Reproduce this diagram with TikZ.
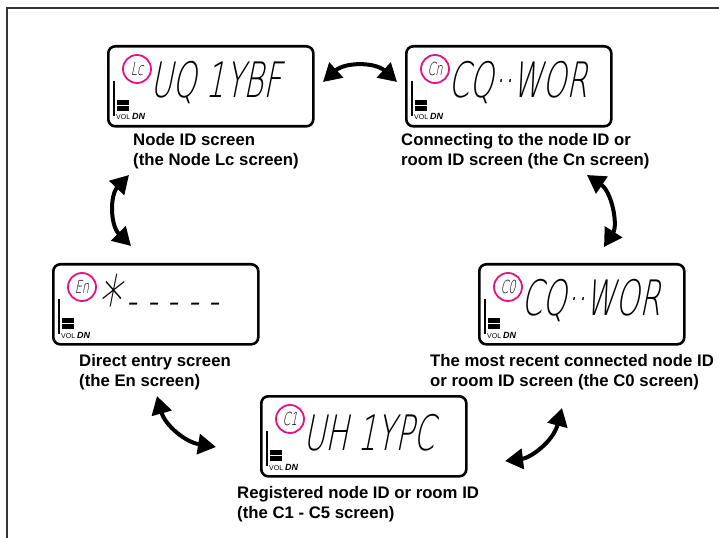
\documentclass[tikz,border=0pt]{standalone}
\usepackage{fontspec}
\setmainfont{Liberation Sans}
\newfontfamily\lcdfont{DejaVu Sans ExtraLight}[FakeSlant=0.2,FakeStretch=0.62]
\usetikzlibrary{arrows.meta}

\definecolor{ringpink}{RGB}{228,20,127}

\tikzset{
  screen/.style={draw,line width=2.6bp,rounded corners=7bp,minimum width=205bp,
    minimum height=80bp,anchor=north west,inner sep=0pt},
  ring/.style={draw=ringpink,line width=1.8bp,circle,minimum size=28bp,inner sep=0pt,
    font=\lcdfont\fontsize{18}{18}\selectfont},
  lcd/.style={font=\lcdfont\fontsize{49}{49}\selectfont,anchor=west,inner sep=0pt},
  volmark/.style={font=\fontsize{7}{7}\selectfont,anchor=base west,inner sep=0pt},
  caption/.style={font=\bfseries\fontsize{16.8}{20.5}\selectfont,align=left,
    anchor=north west,inner sep=0pt},
  swapper/.style={line width=4bp,{Triangle[length=18bp,width=20bp]}-{Triangle[length=18bp,width=20bp]}},
}

\begin{document}
\begin{tikzpicture}[x=1bp,y=-1bp]
  \useasboundingbox (0,0) rectangle (719,538);

  % outer frame, open at right and bottom
  \draw[line width=2.5bp,black!80] (719,8) -- (7,8) -- (7,538);

  % the five screens
  \foreach \nm/\px/\py/\tag/\txt in {Lc/107/45/Lc/{UQ 1YBF},
                                     Cn/405/45/Cn/{CQ··WOR},
                                     En/52/263/En/{\raisebox{-7bp}{\fontsize{72}{72}\selectfont *}\,\raisebox{3bp}{- - - - -}},
                                     Cz/478/263/C0/{CQ··WOR},
                                     Ca/260/395/C1/{UH 1YPC}}{
    \begin{scope}[shift={(\px,\py)}]
      \node[screen] (scr\nm) at (0,0) {};
      \node[ring] (ring\nm) at (30,24) {\tag};
      % volume bar
      \draw[line width=1.4bp] (7,36) -- (7,71);
      \fill (10,55) rectangle (22,60);
      \fill (10,61) rectangle (22,66);
      \node[volmark] (vol\nm) at (9,75) {VOL \fontsize{9}{9}\selectfont\textbf{\textit{DN}}};
      \node[lcd] (txt\nm) at (43,38) {\txt};
    \end{scope}
  }

  % captions
  \node[caption] (capLc) at (133,133) {Node ID screen\\(the Node Lc screen)};
  \node[caption] (capCn) at (401,133) {Connecting to the node ID or\\room ID screen (the Cn screen)};
  \node[caption] (capEn) at (79,354) {Direct entry screen\\(the En screen)};
  \node[caption] (capCz) at (430,354) {The most recent connected node ID\\or room ID screen (the C0 screen)};
  \node[caption] (capCa) at (237,486) {Registered node ID or room ID\\(the C1 - C5 screen)};

  % arrow ends
  \coordinate (topL) at (323,82);
  \coordinate (topR) at (397,82);
  \coordinate (leftU) at (129,175);
  \coordinate (leftD) at (131,246);
  \coordinate (lowLU) at (157,396);
  \coordinate (lowLD) at (216,447);
  \coordinate (lowRD) at (505,461);
  \coordinate (lowRU) at (562,408);
  \coordinate (rightU) at (587,175);
  \coordinate (rightD) at (604,247);

  % double arrows between screens
  \draw[swapper] (topL) .. controls (345,62) and (375,62) .. (topR);
  \draw[swapper] (leftU) .. controls (110,195) and (110,225) .. (leftD);
  \draw[swapper] (lowLU) .. controls (165,425) and (185,442) .. (lowLD);
  \draw[swapper] (lowRD) .. controls (530,458) and (553,442) .. (lowRU);
  \draw[swapper] (rightU) .. controls (612,192) and (618,225) .. (rightD);
\end{tikzpicture}
\end{document}
